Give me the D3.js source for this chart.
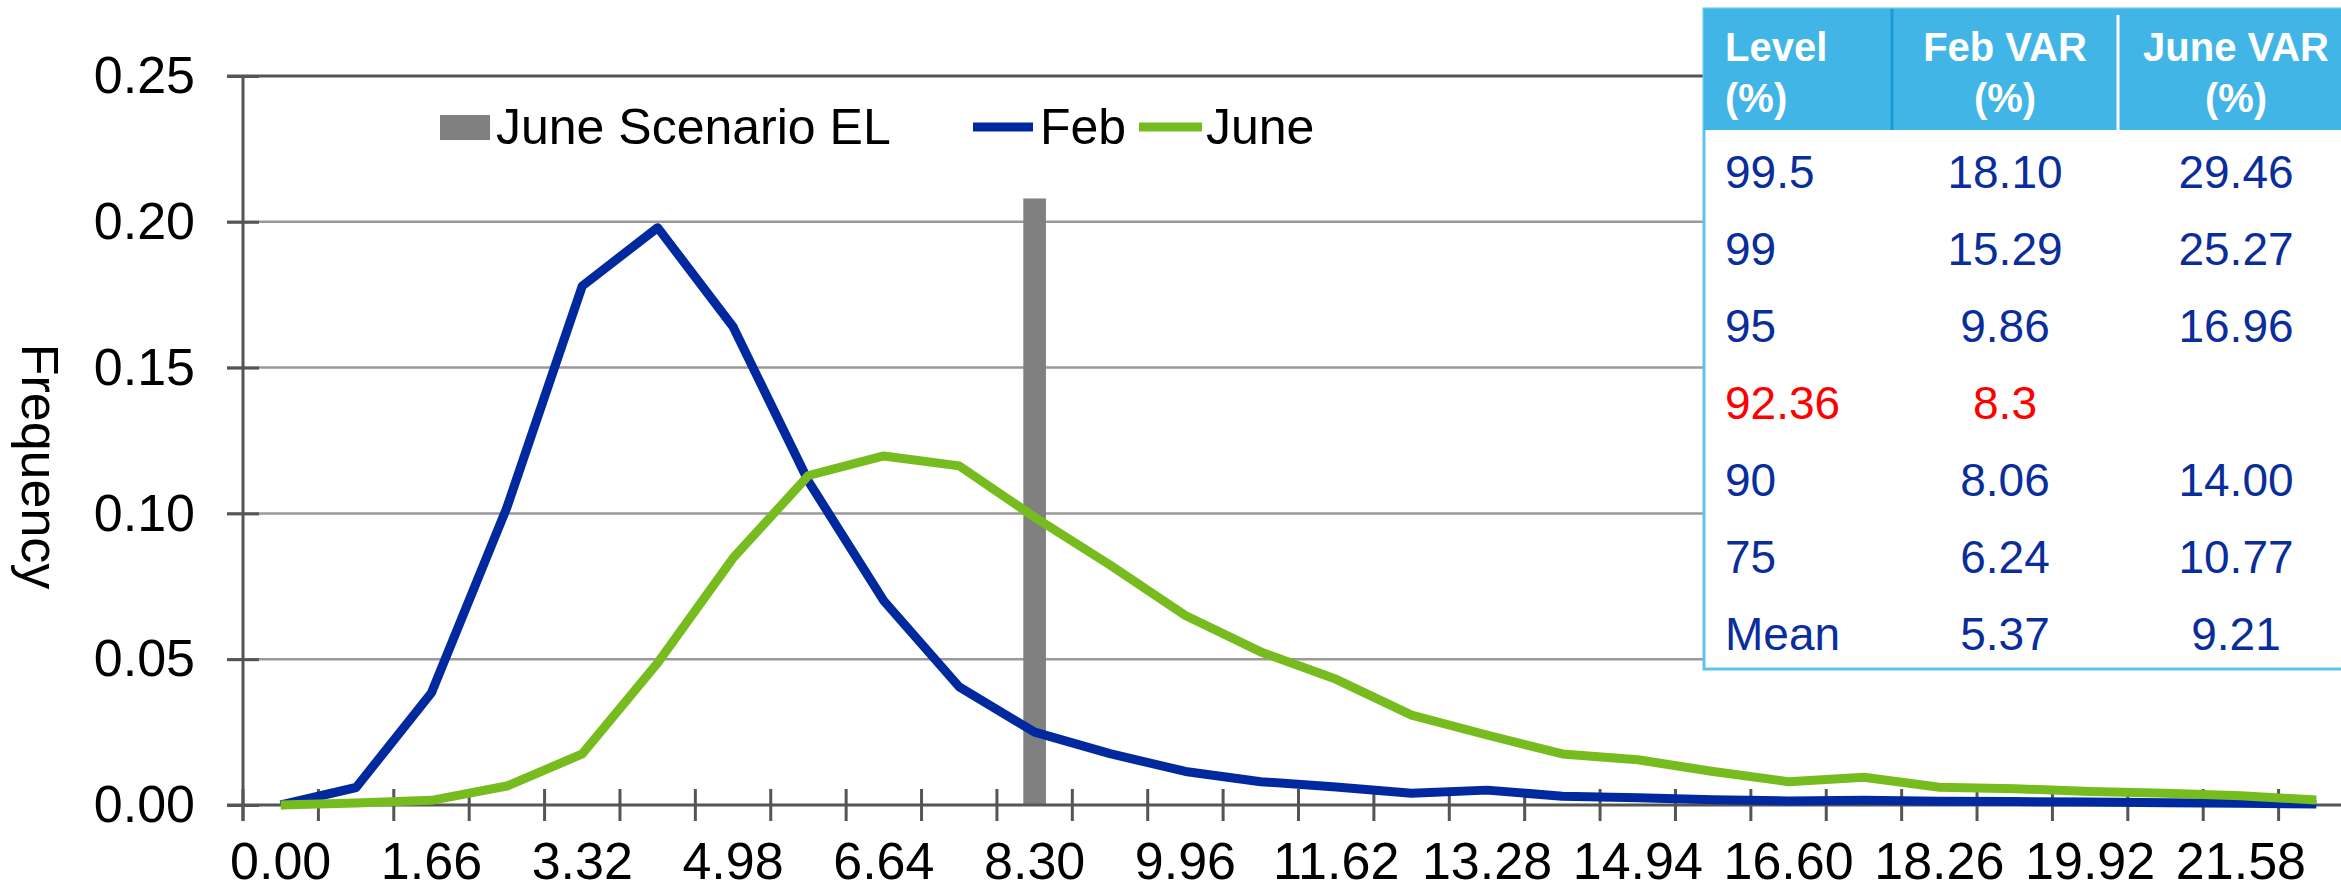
<!DOCTYPE html>
<html>
<head>
<meta charset="utf-8">
<script src="https://cdn.jsdelivr.net/npm/d3@7"></script>
<style>
  html, body { margin: 0; padding: 0; background: #fff; }
  svg { display: block; font-family: "Liberation Sans", Arial, sans-serif; }
</style>
</head>
<body>
<svg id="chart"></svg>
<script>
// Loss distribution: Feb vs June frequency, with June scenario EL marker and VaR table

// x categories (loss %), every other one is labelled
const bins = ["0.00", "0.83", "1.66", "2.49", "3.32", "4.15", "4.98", "5.81", "6.64", "7.47",
  "8.30", "9.13", "9.96", "10.79", "11.62", "12.45", "13.28", "14.11", "14.94", "15.77",
  "16.60", "17.43", "18.26", "19.09", "19.92", "20.75", "21.58", "22.41"];

const febFreq = [0.000, 0.006, 0.0385, 0.102, 0.178, 0.198, 0.164, 0.111, 0.070, 0.0405,
  0.025, 0.0176, 0.0115, 0.008, 0.0062, 0.004, 0.0051, 0.003, 0.0025, 0.0018,
  0.0014, 0.0016, 0.0013, 0.0012, 0.001, 0.0008, 0.0006, 0.0003];

const juneFreq = [0.000, 0.0007, 0.0016, 0.0065, 0.0175, 0.0487, 0.0847, 0.113, 0.1197, 0.1163,
  0.0987, 0.0823, 0.065, 0.0525, 0.0431, 0.0308, 0.024, 0.0175, 0.0155, 0.0115,
  0.008, 0.0095, 0.0061, 0.0056, 0.0046, 0.004, 0.0032, 0.0017];

const scenarioEL = [{ bin: "8.30", value: 0.208 }];

const yTicks = [0, 0.05, 0.10, 0.15, 0.20, 0.25];

// VaR table
const tableHeader = [["Level", "(%)"], ["Feb VAR", "(%)"], ["June VAR", "(%)"]];
const tableLevels = ["99.5", "99", "95", "92.36", "90", "75", "Mean"];
const tableFeb = ["18.10", "15.29", "9.86", "8.3", "8.06", "6.24", "5.37"];
const tableJune = ["29.46", "25.27", "16.96", "", "14.00", "10.77", "9.21"];
const highlightLevel = "92.36";

const width = 2341, height = 891;
const margin = { top: 76, right: -13, bottom: 86, left: 243 };

const svg = d3.select("#chart").attr("width", width).attr("height", height);

const x = d3.scaleBand()
  .domain(bins)
  .range([margin.left, width - margin.right])
  .padding(0);

const y = d3.scaleLinear()
  .domain([0, 0.25])
  .range([height - margin.bottom, margin.top]);

const colors = { feb: "#00299f", june: "#77bc1f", el: "#808080", axis: "#555555", grid: "#999999" };

// gridlines
svg.append("g")
  .selectAll("line")
  .data(yTicks.filter(d => d > 0))
  .join("line")
  .attr("x1", margin.left - 16)
  .attr("x2", width)
  .attr("y1", d => y(d))
  .attr("y2", d => y(d))
  .attr("stroke", d => d === 0.25 ? colors.axis : colors.grid)
  .attr("stroke-width", d => d === 0.25 ? 3 : 2.5);

// June scenario EL bar
svg.append("g")
  .selectAll("rect")
  .data(scenarioEL)
  .join("rect")
  .attr("x", d => x(d.bin) + x.bandwidth() * 0.35)
  .attr("width", x.bandwidth() * 0.3)
  .attr("y", d => y(d.value))
  .attr("height", d => y(0) - y(d.value))
  .attr("fill", colors.el);

// Y axis
const yAxis = svg.append("g")
  .attr("transform", `translate(${margin.left + 16},0)`)
  .call(d3.axisLeft(y).tickValues(yTicks).tickFormat(d3.format(".2f"))
    .tickSizeInner(32).tickSizeOuter(0).tickPadding(32));
yAxis.select(".domain").remove();
yAxis.selectAll("line").attr("stroke", colors.axis).attr("stroke-width", 3);
yAxis.selectAll("text")
  .attr("fill", "#000")
  .style("font-size", "52px")
  .style("font-family", "'Liberation Sans', Arial, sans-serif");

svg.append("line")
  .attr("x1", margin.left).attr("x2", margin.left)
  .attr("y1", y(0.25)).attr("y2", y(0) + 16)
  .attr("stroke", colors.axis).attr("stroke-width", 3);

// X axis: labels at every other category, ticks at category boundaries
const xAxis = svg.append("g")
  .attr("transform", `translate(0,${y(0) - 16})`)
  .call(d3.axisBottom(x).tickValues(bins.filter((d, i) => i % 2 === 0))
    .tickSize(0).tickPadding(53));
xAxis.select(".domain").remove();
xAxis.selectAll("text")
  .attr("fill", "#000")
  .style("font-size", "52px")
  .style("font-family", "'Liberation Sans', Arial, sans-serif");

svg.append("g")
  .selectAll("line")
  .data(bins)
  .join("line")
  .attr("x1", d => x(d)).attr("x2", d => x(d))
  .attr("y1", y(0) - 16).attr("y2", y(0) + 16)
  .attr("stroke", colors.axis).attr("stroke-width", 3);

svg.append("line")
  .attr("x1", margin.left - 16).attr("x2", width)
  .attr("y1", y(0)).attr("y2", y(0))
  .attr("stroke", colors.axis).attr("stroke-width", 3);

// lines
const line = d3.line()
  .x(d => x(d.bin) + x.bandwidth() / 2)
  .y(d => y(d.value));

const series = [
  { name: "Feb", color: colors.feb, values: bins.map((b, i) => ({ bin: b, value: febFreq[i] })) },
  { name: "June", color: colors.june, values: bins.map((b, i) => ({ bin: b, value: juneFreq[i] })) }
];

svg.append("g")
  .selectAll("path")
  .data(series)
  .join("path")
  .attr("fill", "none")
  .attr("stroke", d => d.color)
  .attr("stroke-width", 9)
  .attr("stroke-linejoin", "round")
  .attr("d", d => line(d.values));

// Y axis title
svg.append("text")
  .attr("transform", `translate(22,${(y(0.25) + y(0)) / 2 + 26}) rotate(90)`)
  .attr("text-anchor", "middle")
  .style("font-size", "52px")
  .text("Frequency");

// Legend
const legend = svg.append("g").style("font-size", "50px");

legend.append("rect")
  .attr("x", 440).attr("y", 115)
  .attr("width", 50).attr("height", 25)
  .attr("fill", colors.el);
legend.append("text").attr("x", 496).attr("y", 144).text("June Scenario EL");

legend.append("line")
  .attr("x1", 973).attr("x2", 1033).attr("y1", 127).attr("y2", 127)
  .attr("stroke", colors.feb).attr("stroke-width", 9);
legend.append("text").attr("x", 1040).attr("y", 144).text("Feb");

legend.append("line")
  .attr("x1", 1139).attr("x2", 1202).attr("y1", 127).attr("y2", 127)
  .attr("stroke", colors.june).attr("stroke-width", 9);
legend.append("text").attr("x", 1206).attr("y", 144).text("June");

// VaR table
const cols = [1704, 1892, 2118, 2354];
const tableTop = 9, headerBottom = 130, tableBottom = 669;
const table = svg.append("g");

table.append("rect")
  .attr("x", cols[0]).attr("y", tableTop)
  .attr("width", cols[3] - cols[0]).attr("height", tableBottom - tableTop)
  .attr("fill", "#fff").attr("stroke", "#5cc3ea").attr("stroke-width", 3);

table.append("rect")
  .attr("x", cols[0]).attr("y", tableTop)
  .attr("width", cols[3] - cols[0]).attr("height", headerBottom - tableTop)
  .attr("fill", "#41b6e6");

table.append("line")
  .attr("x1", cols[1]).attr("x2", cols[1]).attr("y1", tableTop).attr("y2", headerBottom)
  .attr("stroke", "#1a9ad8").attr("stroke-width", 3);
table.append("line")
  .attr("x1", cols[2]).attr("x2", cols[2]).attr("y1", tableTop + 6).attr("y2", headerBottom)
  .attr("stroke", "#fff").attr("stroke-width", 3);

const headerX = [cols[0] + 21, (cols[1] + cols[2]) / 2, (cols[2] + cols[3]) / 2];
tableHeader.forEach((lines, c) => {
  lines.forEach((t, k) => {
    table.append("text")
      .attr("x", headerX[c])
      .attr("y", 61 + k * 51)
      .attr("text-anchor", c === 0 ? "start" : "middle")
      .attr("fill", "#fff")
      .style("font-size", "40px")
      .style("font-weight", "bold")
      .text(t);
  });
});

const rowY = d3.scaleBand().domain(tableLevels).range([headerBottom, tableBottom]);

const rows = table.selectAll("g.row")
  .data(tableLevels.map((lvl, i) => ({ lvl, feb: tableFeb[i], june: tableJune[i] })))
  .join("g")
  .attr("class", "row")
  .attr("transform", d => `translate(0,${rowY(d.lvl) + 58})`)
  .attr("fill", d => d.lvl === highlightLevel ? "#ff0000" : "#0a2d9c")
  .style("font-size", "46px");

rows.append("text").attr("x", headerX[0]).text(d => d.lvl);
rows.append("text").attr("x", headerX[1]).attr("text-anchor", "middle").text(d => d.feb);
rows.append("text").attr("x", headerX[2]).attr("text-anchor", "middle").text(d => d.june);
</script>
</body>
</html>
